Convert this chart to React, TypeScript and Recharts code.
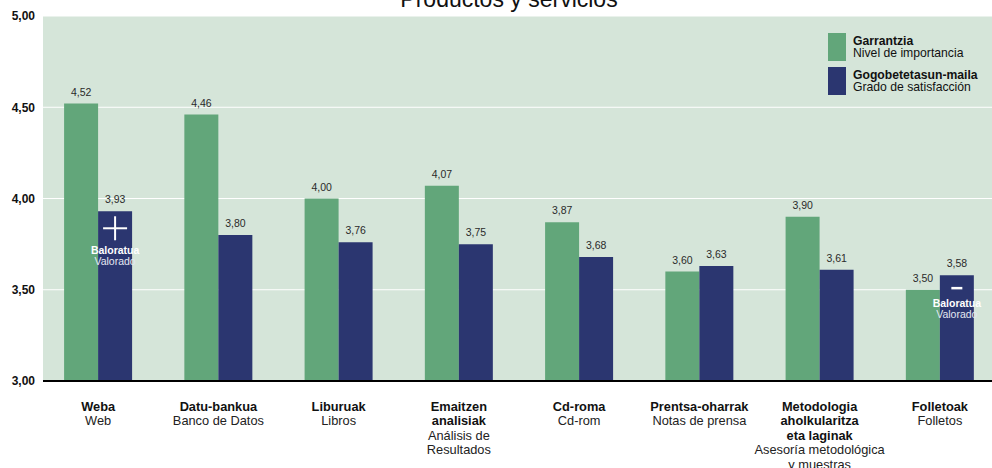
import { BarChart, Bar, XAxis, YAxis, CartesianGrid, LabelList } from "recharts";

const categoriasEu = [
  ["Weba"],
  ["Datu-bankua"],
  ["Liburuak"],
  ["Emaitzen", "analisiak"],
  ["Cd-roma"],
  ["Prentsa-oharrak"],
  ["Metodologia", "aholkularitza", "eta laginak"],
  ["Folletoak"],
];
const categoriasEs = [
  ["Web"],
  ["Banco de Datos"],
  ["Libros"],
  ["Análisis de", "Resultados"],
  ["Cd-rom"],
  ["Notas de prensa"],
  ["Asesoría metodológica", "y muestras"],
  ["Folletos"],
];
const garrantzia = [4.52, 4.46, 4.0, 4.07, 3.87, 3.6, 3.9, 3.5];
const gogobetetasuna = [3.93, 3.8, 3.76, 3.75, 3.68, 3.63, 3.61, 3.58];
const marcas = ["plus", "", "", "", "", "", "", "minus"];
const yTicks = [3, 3.5, 4, 4.5, 5];

const VERDE = "#62a67a";
const AZUL = "#2b3670";
const FONDO = "#d5e5d9";
const FONT = "'Liberation Sans', Arial, sans-serif";

const data = garrantzia.map((g, i) => ({
  key: i,
  garrantzia: g,
  gogobetetasuna: gogobetetasuna[i],
}));

const coma = (v: number) => v.toFixed(2).replace(".", ",");

function CategoriaTick(props: any) {
  const { x, y, payload } = props;
  const i = payload.value;
  const eu = categoriasEu[i];
  const es = categoriasEs[i];
  const y0 = y + 22;
  return (
    <g>
      {eu.map((t, k) => (
        <text key={"eu" + k} x={x} y={y0 + k * 14.4} textAnchor="middle" fontSize={12.8} fontWeight="bold" fill="#111" fontFamily={FONT}>
          {t}
        </text>
      ))}
      {es.map((t, k) => (
        <text key={"es" + k} x={x} y={y0 + (eu.length + k) * 14.4} textAnchor="middle" fontSize={12.8} fill="#222" fontFamily={FONT}>
          {t}
        </text>
      ))}
    </g>
  );
}

function Marca(props: any) {
  const { x, y, width, index } = props;
  const tipo = marcas[index];
  if (!tipo) return null;
  const cx = x + width / 2;
  const plus = tipo === "plus";
  const d1 = plus ? 43 : 32;
  const d2 = d1 + 10.5;
  return (
    <g fontFamily={FONT}>
      {plus ? (
        <g stroke="#fff" strokeWidth={2}>
          <line x1={cx - 12} x2={cx + 12} y1={y + 17} y2={y + 17} />
          <line x1={cx} x2={cx} y1={y + 5} y2={y + 29} />
        </g>
      ) : (
        <line x1={cx - 5.5} x2={cx + 5.5} y1={y + 13} y2={y + 13} stroke="#fff" strokeWidth={2.5} />
      )}
      <text x={cx} y={y + d1} textAnchor="middle" fontSize={10.5} fontWeight="bold" fill="#fff">
        Baloratua
      </text>
      <text x={cx} y={y + d2} textAnchor="middle" fontSize={10.5} fill="#e4e8f2">
        Valorado
      </text>
    </g>
  );
}

function Leyenda() {
  const items = [
    { color: VERDE, eu: "Garrantzia", es: "Nivel de importancia" },
    { color: AZUL, eu: "Gogobetetasun-maila", es: "Grado de satisfacción" },
  ];
  return (
    <div style={{ position: "absolute", top: 33, left: 828, fontFamily: FONT, fontSize: 12.2 }}>
      {items.map((it, k) => (
        <div key={k} style={{ display: "flex", alignItems: "center", marginBottom: 6, height: 28 }}>
          <div style={{ width: 18, height: 28, background: it.color, marginRight: 7 }} />
          <div style={{ lineHeight: "12px", color: "#111" }}>
            <div style={{ fontWeight: "bold" }}>{it.eu}</div>
            <div>{it.es}</div>
          </div>
        </div>
      ))}
    </div>
  );
}

export default function App() {
  return (
    <div style={{ position: "absolute", left: 0, top: 0, width: 992, height: 468, overflow: "hidden", background: "#fff" }}>
      <BarChart
        width={1000}
        height={468}
        data={data}
        margin={{ top: 16, right: 0, bottom: 0, left: 0 }}
        barGap={0}
        barCategoryGap="21.7%"
      >
        <CartesianGrid fill={FONDO} fillOpacity={1} stroke="#fff" strokeWidth={1.2} vertical={false} />
        <XAxis
          dataKey="key"
          height={87}
          padding={{ left: -5, right: 0 }}
          axisLine={{ stroke: "#000", strokeWidth: 2 }}
          tickLine={false}
          interval={0}
          tick={<CategoriaTick />}
        />
        <YAxis
          width={43}
          domain={[3, 5]}
          ticks={yTicks}
          axisLine={false}
          tickLine={false}
          tickSize={0}
          tickMargin={8}
          tickFormatter={coma}
          tick={{ fontSize: 12, fontWeight: "bold", fill: "#111", fontFamily: FONT }}
        />
        <Bar dataKey="garrantzia" fill={VERDE} isAnimationActive={false}>
          <LabelList dataKey="garrantzia" position="top" offset={8} formatter={(v: any) => coma(v)} style={{ fontSize: 10.5, fill: "#2a2a2a", fontFamily: FONT }} />
        </Bar>
        <Bar dataKey="gogobetetasuna" fill={AZUL} isAnimationActive={false}>
          <LabelList dataKey="gogobetetasuna" position="top" offset={8} formatter={(v: any) => coma(v)} style={{ fontSize: 10.5, fill: "#2a2a2a", fontFamily: FONT }} />
          <LabelList dataKey="gogobetetasuna" content={<Marca />} />
        </Bar>
      </BarChart>
      <Leyenda />
      <div
        style={{
          position: "absolute",
          top: -12.5,
          left: 0,
          width: 1018,
          textAlign: "center",
          fontFamily: FONT,
          fontSize: 23,
          lineHeight: "23px",
          color: "#111",
        }}
      >
        Productos y servicios
      </div>
    </div>
  );
}
